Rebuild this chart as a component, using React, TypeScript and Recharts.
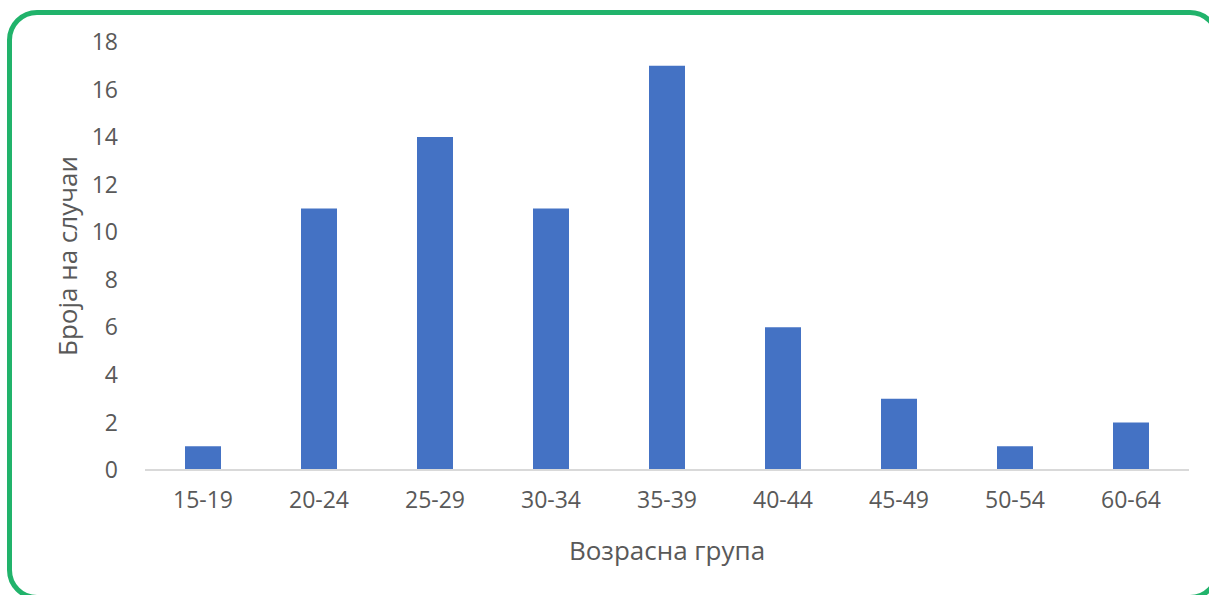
import { BarChart, Bar, XAxis, YAxis } from 'recharts'

const ageGroups = ['15-19', '20-24', '25-29', '30-34', '35-39', '40-44', '45-49', '50-54', '60-64']
const caseCounts = [1, 11, 14, 11, 17, 6, 3, 1, 2]
const yTicks = [0, 2, 4, 6, 8, 10, 12, 14, 16, 18]

const data = ageGroups.map((group, i) => ({ group, cases: caseCounts[i] }))

const font = '"Open Sans", sans-serif'
const textColor = '#595959'

export default function App() {
  return (
    <div
      style={{
        position: 'fixed',
        left: 0,
        top: 0,
        width: 1209,
        height: 595,
        overflow: 'hidden',
        background: '#fff',
        fontFamily: font,
      }}
    >
      <div
        style={{
          position: 'absolute',
          left: 7,
          top: 10,
          width: 1213,
          height: 590,
          border: '5px solid #21B36B',
          borderRadius: 30,
          boxSizing: 'border-box',
        }}
      />
      <div style={{ position: 'absolute', left: 0, top: 0 }}>
        <BarChart
          width={1209}
          height={595}
          data={data}
          margin={{ top: 42, right: 20, bottom: 25, left: 0 }}
          barCategoryGap={0}
        >
          <XAxis
            dataKey="group"
            height={100}
            tickLine={false}
            tickSize={0}
            tickMargin={22}
            axisLine={{ stroke: '#D9D9D9', strokeWidth: 2 }}
            tick={{ fill: textColor, fontSize: 23, fontFamily: font }}
            label={{
              value: 'Возрасна група',
              position: 'insideBottom',
              offset: 10,
              fill: textColor,
              fontSize: 26,
              fontFamily: font,
            }}
          />
          <YAxis
            width={145}
            domain={[0, 18]}
            ticks={yTicks}
            interval={0}
            tickLine={false}
            axisLine={false}
            tickSize={0}
            tickMargin={27}
            tick={{ fill: textColor, fontSize: 23, fontFamily: font }}
            label={{
              value: 'Броја на случаи',
              angle: -90,
              position: 'insideLeft',
              offset: 68,
              fill: textColor,
              fontSize: 26,
              fontFamily: font,
              style: { textAnchor: 'middle' },
            }}
          />
          <Bar dataKey="cases" fill="#4472C4" barSize={36} isAnimationActive={false} />
        </BarChart>
      </div>
    </div>
  )
}
